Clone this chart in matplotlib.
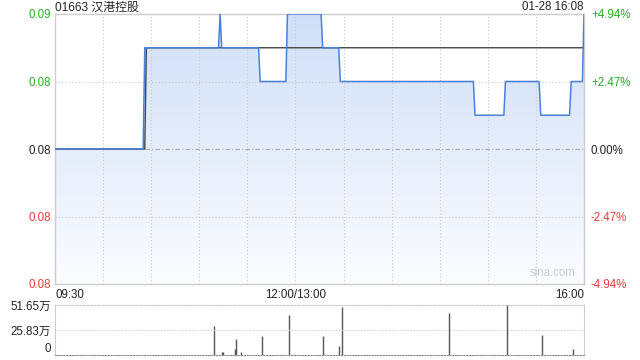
import numpy as np
import matplotlib
matplotlib.use("Agg")
import matplotlib.pyplot as plt
from matplotlib.colors import LinearSegmentedColormap
from matplotlib.patches import PathPatch

plt.rcParams['font.family'] = ['Liberation Sans', 'Noto Sans CJK SC', 'DejaVu Sans']

# ---- data ----
title = "01663 汉港控股"
stamp = "01-28 16:08"
prev_close = 0.081
# price steps: (number of minutes, price)
step_lengths = [56, 47, 1, 24, 17, 22, 11, 84, 19, 22, 19, 8, 1]
step_prices = [0.081, 0.084, 0.085, 0.084, 0.083, 0.085, 0.084, 0.083,
               0.082, 0.083, 0.082, 0.083, 0.085]
avg_lengths = [57, 274]
avg_prices = [0.081, 0.084]
vol_minutes = [58, 99, 104, 105, 112, 113, 116, 129, 146, 167, 177, 179,
               246, 282, 304, 323]
vol_values = [0.5, 30.0, 3.0, 3.0, 6.5, 17.0, 3.0, 19.6, 41.0, 19.6, 9.6,
              49.6, 43.7, 51.65, 21.0, 6.0]   # 万
price_ticks = [0.085, 0.083, 0.081, 0.079, 0.077]
price_labels = ["0.09", "0.08", "0.08", "0.08", "0.08"]
pct_labels = ["+4.94%", "+2.47%", "0.00%", "-2.47%", "-4.94%"]
vol_ticks = [51.65, 25.83, 0]
vol_labels = ["51.65万", "25.83万", "0"]
x_labels = ["09:30", "12:00/13:00", "16:00"]
x_label_pos = [0, 150, 330]

price = np.repeat(step_prices, step_lengths)
avg = np.repeat(avg_prices, avg_lengths)
t = np.arange(len(price))

GREEN = "#22b022"
RED = "#f03a3a"
BLACK = "#222222"
colors = [GREEN, GREEN, BLACK, RED, RED]
FS = 8.3

W, H = 640, 360
fig = plt.figure(figsize=(6.4, 3.6), dpi=100)
fig.patch.set_facecolor("white")

def rect(l, r, top, bot):
    return [l / W, 1 - bot / H, (r - l) / W, (bot - top) / H]

ax = fig.add_axes(rect(55, 584, 14, 284))
axv = fig.add_axes(rect(55, 584, 305, 355))

ymin, ymax = 0.077, 0.085
ax.set_xlim(0, 330)
ax.set_ylim(ymin, ymax)

# gradient fill under line
cmap = LinearSegmentedColormap.from_list("g", ["#fbfcff", "#d0dff8"])
grad = np.linspace(0, 1, 256).reshape(-1, 1)
im = ax.imshow(grad, cmap=cmap, aspect="auto", origin="lower",
               extent=[0, 330, ymin, ymax], zorder=1)
poly = ax.fill_between(t, price, ymin, color="none", lw=0)
clip = poly.get_paths()[0]
pp = PathPatch(clip, transform=ax.transData, facecolor="none", edgecolor="none")
ax.add_patch(pp)
im.set_clip_path(pp)

# grid
for m in range(30, 330, 30):
    ax.axvline(m, color="#c8c8c8", lw=0.8, ls=(0, (1, 2)), zorder=2)
for p in [0.083, 0.079]:
    ax.axhline(p, color="#c8c8c8", lw=0.8, ls=(0, (1, 2)), zorder=2)
ax.axhline(prev_close, color="#aaaaaa", lw=0.8, ls=(0, (4, 2, 1, 2)), zorder=2)

ax.plot(t, avg, color="#444444", lw=1.0, zorder=3)
ax.plot(t, price, color="#4a80dc", lw=1.1, zorder=4)

ax.set_xticks([])
ax.set_yticks(price_ticks)
ax.set_yticklabels(price_labels, fontsize=FS)
for lbl, c in zip(ax.get_yticklabels(), colors):
    lbl.set_color(c)
ax.tick_params(axis="y", length=0, pad=3)
for s in ax.spines.values():
    s.set_color("#cccccc")
    s.set_linewidth(1)

axr = ax.twinx()
axr.set_ylim(ymin, ymax)
axr.set_yticks(price_ticks)
axr.set_yticklabels(pct_labels, fontsize=FS)
for lbl, c in zip(axr.get_yticklabels(), colors):
    lbl.set_color(c)
axr.tick_params(axis="y", length=0, pad=5)
for s in axr.spines.values():
    s.set_visible(False)

# texts
fig.text(55 / W, 1 - 7.5 / H, title, fontsize=8.6, color=BLACK, va="center", ha="left")
fig.text(584 / W, 1 - 7.5 / H, stamp, fontsize=FS, color=BLACK, va="center", ha="right")
ax.text(0.985, 0.02, "sina.com", transform=ax.transAxes, fontsize=FS,
        color="#cccccc", ha="right", va="bottom", zorder=5)
has = ["left", "center", "right"]
for lab, pos, ha in zip(x_labels, x_label_pos, has):
    ax.text(pos, -0.02, lab, transform=ax.get_xaxis_transform(),
            fontsize=FS, color=BLACK, ha=ha, va="top")

# volume
axv.set_xlim(0, 330)
axv.set_ylim(0, 51.65)
axv.vlines(vol_minutes, 0, vol_values, color="#555555", lw=1.0)
axv.axhline(25.83, color="#c8c8c8", lw=0.8, ls=(0, (1, 1.5)))
axv.set_xticks([])
axv.set_yticks(vol_ticks)
axv.set_yticklabels(vol_labels, fontsize=FS, color=BLACK)
axv.tick_params(axis="y", length=0, pad=3)
labs = axv.get_yticklabels()
labs[2].set_va("bottom")
axv.spines["top"].set_color("#c8c8c8")
axv.spines["top"].set_linestyle((0, (1, 1.5)))
axv.spines["bottom"].set_color("#888888")
axv.spines["bottom"].set_linestyle((0, (1, 1.5)))
axv.spines["left"].set_color("#cccccc")
axv.spines["right"].set_color("#cccccc")

fig.savefig("out.png", dpi=100)
